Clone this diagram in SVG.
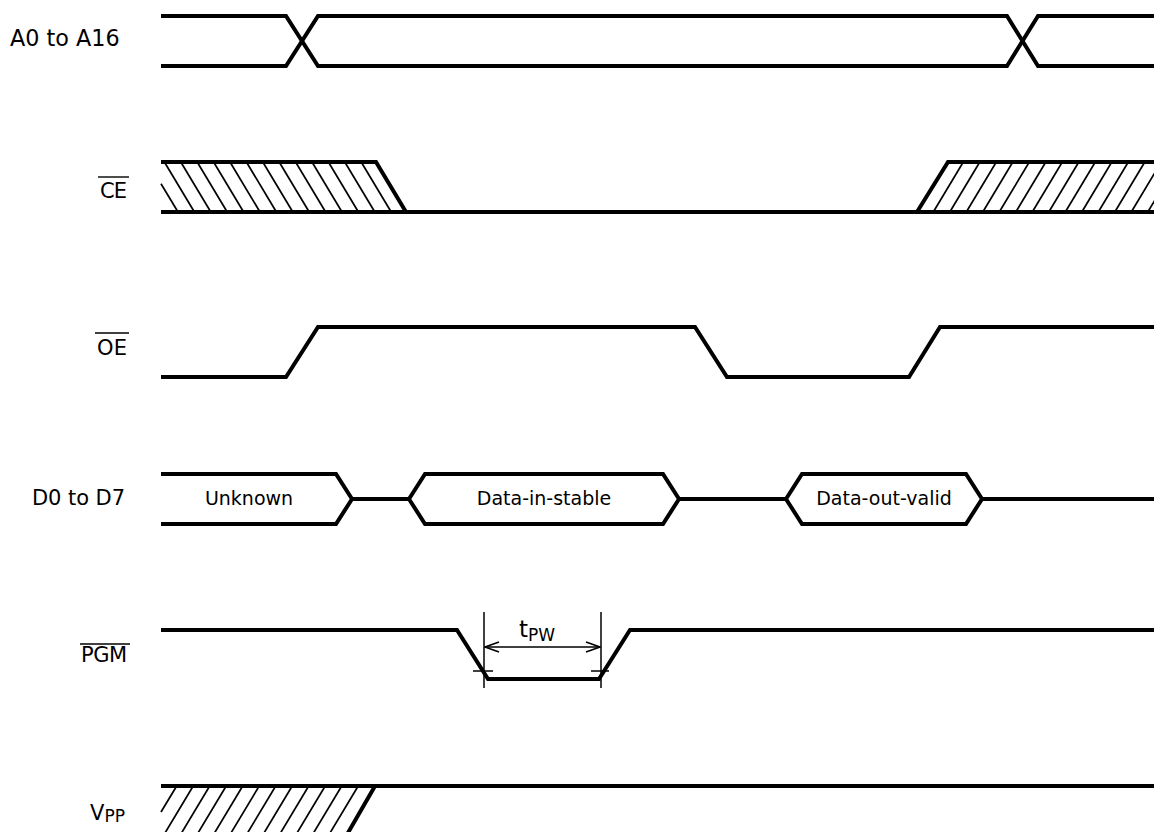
<svg xmlns="http://www.w3.org/2000/svg" width="1154" height="832" viewBox="0 0 1154 832">
<style>
.w{fill:none;stroke:#000;stroke-width:4;stroke-linejoin:miter;stroke-miterlimit:10}
.h{stroke:#000;stroke-width:1.7;fill:none}
.t{stroke:#000;stroke-width:1.5;fill:none}
.ov{stroke:#000;stroke-width:1.4}
.lb{font-family:"DejaVu Sans",sans-serif;font-size:21px;fill:#000}
.bx{font-family:"DejaVu Sans",sans-serif;font-size:19px;fill:#000;text-anchor:middle}
</style>
<defs>
<marker id="ah" viewBox="0 0 16 12" refX="15" refY="6" markerWidth="16" markerHeight="12" markerUnits="userSpaceOnUse" orient="auto-start-reverse">
<polyline points="1,1 15,6 1,11" fill="none" stroke="#000" stroke-width="1.6"/>
</marker>
</defs>
<rect width="1154" height="832" fill="#fff"/>

<g id="sig-address">
<text class="lb" x="10" y="46" style="font-size:22.3px">A0 to A16</text>
<polyline class="w" points="161,16 286,16 318,66 1007,66 1038,16 1154,16"/>
<polyline class="w" points="161,66 286,66 318,16 1007,16 1038,66 1154,66"/>
</g>

<g id="sig-ce">
<text class="lb" x="100" y="198" textLength="27">CE</text>
<line class="ov" x1="98" y1="177" x2="129" y2="177"/>
<g class="h">
<line x1="161" y1="183.7" x2="178" y2="212"/>
<line x1="164.4" y1="162" x2="194.4" y2="212"/>
<line x1="180.8" y1="162" x2="210.8" y2="212"/>
<line x1="197.2" y1="162" x2="227.2" y2="212"/>
<line x1="213.6" y1="162" x2="243.6" y2="212"/>
<line x1="230" y1="162" x2="260" y2="212"/>
<line x1="246.4" y1="162" x2="276.4" y2="212"/>
<line x1="262.8" y1="162" x2="292.8" y2="212"/>
<line x1="279.2" y1="162" x2="309.2" y2="212"/>
<line x1="295.6" y1="162" x2="325.6" y2="212"/>
<line x1="312" y1="162" x2="342" y2="212"/>
<line x1="328.4" y1="162" x2="358.4" y2="212"/>
<line x1="344.8" y1="162" x2="374.8" y2="212"/>
<line x1="361.2" y1="162" x2="391.2" y2="212"/>
<line x1="933.3" y1="212" x2="963.3" y2="162"/>
<line x1="949.8" y1="212" x2="979.8" y2="162"/>
<line x1="966.3" y1="212" x2="996.3" y2="162"/>
<line x1="982.8" y1="212" x2="1012.8" y2="162"/>
<line x1="999.3" y1="212" x2="1029.3" y2="162"/>
<line x1="1015.8" y1="212" x2="1045.8" y2="162"/>
<line x1="1032.3" y1="212" x2="1062.3" y2="162"/>
<line x1="1048.8" y1="212" x2="1078.8" y2="162"/>
<line x1="1065.3" y1="212" x2="1095.3" y2="162"/>
<line x1="1081.8" y1="212" x2="1111.8" y2="162"/>
<line x1="1098.3" y1="212" x2="1128.3" y2="162"/>
<line x1="1114.8" y1="212" x2="1144.8" y2="162"/>
<line x1="1131.3" y1="212" x2="1161.3" y2="162"/>
<line x1="1147.8" y1="212" x2="1177.8" y2="162"/>
</g>
<polyline class="w" points="161,162 376,162 406,212"/>
<line class="w" x1="161" y1="212" x2="1154" y2="212"/>
<polyline class="w" points="917,212 948,162 1154,162"/>
</g>

<g id="sig-oe">
<text class="lb" x="97" y="355" textLength="30">OE</text>
<line class="ov" x1="95" y1="333" x2="129" y2="333"/>
<polyline class="w" points="161,377 286,377 318,327 695,327 727,377 909,377 940,327 1154,327"/>
</g>

<g id="sig-data">
<text class="lb" x="32" y="505" textLength="93">D0 to D7</text>
<polyline class="w" points="161,474 336,474 352,499 336,524 161,524"/>
<line class="w" x1="352" y1="499" x2="409" y2="499"/>
<polygon class="w" points="409,499 425,474 663,474 679,499 663,524 425,524"/>
<line class="w" x1="679" y1="499" x2="786" y2="499"/>
<polygon class="w" points="786,499 802,474 966,474 982,499 966,524 802,524"/>
<line class="w" x1="982" y1="499" x2="1154" y2="499"/>
<text class="bx" x="249" y="505">Unknown</text>
<text class="bx" x="544" y="505">Data-in-stable</text>
<text class="bx" x="884" y="505">Data-out-valid</text>
</g>

<g id="sig-pgm">
<text class="lb" x="81" y="662" textLength="46">PGM</text>
<line class="ov" x1="80" y1="644" x2="130" y2="644"/>
<polyline class="w" points="161,630 457,630 488,679 599,679 630,630 1154,630"/>
</g>

<g id="connectors">
<g id="dim-tpw">
<line class="t" x1="484" y1="612" x2="484" y2="688"/>
<line class="t" x1="601" y1="612" x2="601" y2="688"/>
<line class="t" x1="473" y1="671" x2="493" y2="671"/>
<line class="t" x1="591" y1="671" x2="609" y2="671"/>
<line class="t" x1="485" y1="647" x2="600" y2="647" marker-start="url(#ah)" marker-end="url(#ah)"/>
<text x="519" y="637" style="font-family:'DejaVu Sans',sans-serif;font-size:23px">t<tspan dy="4" style="font-size:17px">PW</tspan></text>
</g>
</g>

<g id="sig-vpp">
<text x="90" y="820" class="lb">V<tspan dy="2" style="font-size:17px">PP</tspan></text>
<g class="h">
<line x1="161" y1="812" x2="176.7" y2="786"/>
<line x1="193.2" y1="786" x2="163.2" y2="836"/>
<line x1="209.7" y1="786" x2="179.7" y2="836"/>
<line x1="226.2" y1="786" x2="196.2" y2="836"/>
<line x1="242.7" y1="786" x2="212.7" y2="836"/>
<line x1="259.2" y1="786" x2="229.2" y2="836"/>
<line x1="275.7" y1="786" x2="245.7" y2="836"/>
<line x1="292.2" y1="786" x2="262.2" y2="836"/>
<line x1="308.7" y1="786" x2="278.7" y2="836"/>
<line x1="325.2" y1="786" x2="295.2" y2="836"/>
<line x1="341.7" y1="786" x2="311.7" y2="836"/>
<line x1="358.2" y1="786" x2="328.2" y2="836"/>
</g>
<polyline class="w" points="345,838 375,786 1154,786"/>
<line class="w" x1="161" y1="786" x2="375" y2="786"/>
</g>
</svg>
